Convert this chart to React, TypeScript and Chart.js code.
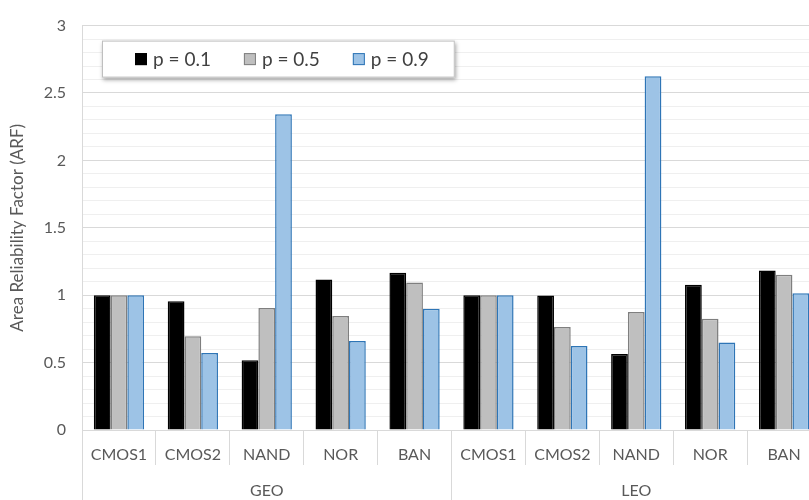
import React, { useEffect, useRef } from 'react';
import { Chart, registerables } from 'chart.js';

Chart.register(...registerables);

const groups = ['GEO', 'LEO'];
const gates = ['CMOS1', 'CMOS2', 'NAND', 'NOR', 'BAN'];
const categories = [...gates, ...gates];
const seriesLabels = ['p = 0.1', 'p = 0.5', 'p = 0.9'];
const p01 = [1.0, 0.955, 0.517, 1.117, 1.167, 1.0, 0.997, 0.563, 1.078, 1.183];
const p05 = [1.0, 0.696, 0.905, 0.845, 1.095, 1.0, 0.765, 0.876, 0.825, 1.152];
const p09 = [1.0, 0.572, 2.342, 0.66, 0.9, 1.0, 0.623, 2.624, 0.65, 1.015];
const yTicks = [0, 0.5, 1, 1.5, 2, 2.5, 3];

const FONT = 'Lato';
const TEXT = '#595959';
const AXIS = '#d9d9d9';

const isMajor = (v: number) => yTicks.some((t) => Math.abs(t - v) < 1e-6);

const boxLegend = {
  id: 'boxLegend',
  afterDraw(chart: any) {
    const { ctx, chartArea } = chart;
    const items = chart.data.datasets.map((ds: any) => ({
      text: ds.label,
      fill: ds.backgroundColor,
      stroke: ds.borderColor,
    }));
    ctx.save();
    ctx.font = `19px ${FONT}`;
    const sq = 12, gapText = 6, gapItem = 33, padL = 33, padR = 26;
    let w = padL + padR;
    items.forEach((it: any, i: number) => {
      w += sq + gapText + ctx.measureText(it.text).width + (i < items.length - 1 ? gapItem : 0);
    });
    const x0 = chartArea.left + 20;
    const y0 = chartArea.top + 15;
    const h = 37;
    ctx.shadowColor = 'rgba(0,0,0,0.35)';
    ctx.shadowBlur = 4;
    ctx.shadowOffsetX = 1;
    ctx.shadowOffsetY = 2;
    ctx.fillStyle = '#ffffff';
    ctx.fillRect(x0, y0, w, h);
    ctx.shadowColor = 'transparent';
    ctx.shadowBlur = 0;
    ctx.shadowOffsetX = 0;
    ctx.shadowOffsetY = 0;
    ctx.strokeStyle = '#bfbfbf';
    ctx.lineWidth = 1;
    ctx.strokeRect(x0 + 0.5, y0 + 0.5, w - 1, h - 1);
    let x = x0 + padL;
    const cy = y0 + h / 2;
    items.forEach((it: any) => {
      ctx.fillStyle = it.fill;
      ctx.fillRect(x, cy - sq / 2, sq, sq);
      ctx.strokeStyle = it.stroke;
      ctx.lineWidth = 1;
      ctx.strokeRect(x + 0.5, cy - sq / 2 + 0.5, sq - 1, sq - 1);
      x += sq + gapText;
      ctx.fillStyle = '#404040';
      ctx.textBaseline = 'middle';
      ctx.textAlign = 'left';
      ctx.fillText(it.text, x, cy + 1);
      x += ctx.measureText(it.text).width + gapItem;
    });
    ctx.restore();
  },
};

export default function App() {
  const ref = useRef<HTMLCanvasElement>(null);

  useEffect(() => {
    const chart = new Chart(ref.current as HTMLCanvasElement, {
      type: 'bar',
      data: {
        labels: categories,
        datasets: [
          { label: seriesLabels[0], data: p01, backgroundColor: '#000000', borderColor: '#000000', borderWidth: 1.5 },
          { label: seriesLabels[1], data: p05, backgroundColor: '#bfbfbf', borderColor: '#7f7f7f', borderWidth: 1.5 },
          { label: seriesLabels[2], data: p09, backgroundColor: '#9dc3e6', borderColor: '#2e75b6', borderWidth: 1.5 },
        ],
      },
      plugins: [boxLegend],
      options: {
        responsive: false,
        animation: false,
        layout: { padding: { top: 16, left: 0, right: 0, bottom: 0 } },
        plugins: { legend: { display: false }, tooltip: { enabled: false } },
        datasets: { bar: { categoryPercentage: 0.68, barPercentage: 1.0 } },
        scales: {
          x: {
            type: 'category',
            offset: true,
            weight: 0,
            grid: { offset: true, drawOnChartArea: false, drawTicks: true, tickLength: 35, color: AXIS },
            border: { display: true, color: AXIS },
            ticks: { color: TEXT, font: { family: FONT, size: 16 }, padding: -20, autoSkip: false, maxRotation: 0 },
            afterFit: (s: any) => { s.height = 35; },
          },
          x2: {
            type: 'category',
            labels: groups,
            position: 'bottom',
            offset: true,
            weight: 1,
            grid: { offset: true, drawOnChartArea: false, drawTicks: true, tickLength: 35, color: AXIS },
            border: { display: false },
            ticks: { color: TEXT, font: { family: FONT, size: 16 }, padding: -19, autoSkip: false, maxRotation: 0 },
            afterFit: (s: any) => { s.height = 35; },
          },
          y: {
            min: 0,
            max: 3,
            ticks: {
              stepSize: 0.1,
              autoSkip: false,
              padding: 16,
              color: TEXT,
              font: { family: FONT, size: 16 },
              callback: (v: any) => (isMajor(Number(v)) ? String(+Number(v).toFixed(1)) : ''),
            },
            grid: {
              drawTicks: false,
              color: (c: any) => (isMajor(c.tick.value) ? AXIS : '#efefef'),
            },
            border: { display: true, color: AXIS },
            title: {
              display: true,
              text: 'Area Reliability Factor (ARF)',
              color: TEXT,
              font: { family: FONT, size: 17 },
              padding: { top: 7, bottom: 0 },
            },
            afterFit: (s: any) => { s.width = 82; },
          },
        },
      } as any,
    });
    return () => chart.destroy();
  }, []);

  return (
    <div style={{ position: 'fixed', left: 0, top: 0, width: 809, height: 500, overflow: 'hidden', background: '#ffffff' }}>
      <canvas ref={ref} width={821} height={500} style={{ display: 'block', width: 821, height: 500 }} />
    </div>
  );
}
